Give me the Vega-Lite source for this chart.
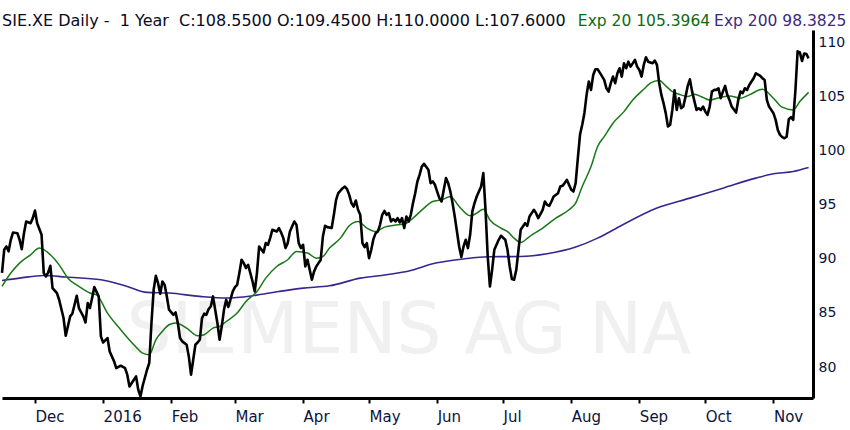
{
  "$schema": "https://vega.github.io/schema/vega-lite/v6.json",
  "autosize": {"type": "none"},
  "width": 811,
  "height": 368,
  "padding": {"left": 2, "top": 30, "right": 37, "bottom": 32},
  "background": "white",
  "config": {"view": {"stroke": null}, "font": "DejaVu Sans"},
  "datasets": {
    "close": [
      {"date": "2015-11-16", "value": 88.7}, {"date": "2015-11-17", "value": 90.84}, {"date": "2015-11-18", "value": 91.15},
      {"date": "2015-11-19", "value": 90.7}, {"date": "2015-11-20", "value": 91.77}, {"date": "2015-11-21", "value": 92.44},
      {"date": "2015-11-23", "value": 92.38}, {"date": "2015-11-24", "value": 91.77}, {"date": "2015-11-25", "value": 90.9},
      {"date": "2015-11-26", "value": 92.38}, {"date": "2015-11-27", "value": 93.46}, {"date": "2015-11-29", "value": 93.3},
      {"date": "2015-11-30", "value": 93.77}, {"date": "2015-12-01", "value": 94.47}, {"date": "2015-12-02", "value": 93.3},
      {"date": "2015-12-04", "value": 92.23}, {"date": "2015-12-05", "value": 88.69}, {"date": "2015-12-06", "value": 88.38},
      {"date": "2015-12-07", "value": 88.74}, {"date": "2015-12-08", "value": 89.36}, {"date": "2015-12-09", "value": 87.3},
      {"date": "2015-12-11", "value": 86.84}, {"date": "2015-12-12", "value": 86.22}, {"date": "2015-12-14", "value": 84.53},
      {"date": "2015-12-15", "value": 82.89}, {"date": "2015-12-17", "value": 84.68}, {"date": "2015-12-18", "value": 84.93},
      {"date": "2015-12-20", "value": 86.59}, {"date": "2015-12-21", "value": 85.45}, {"date": "2015-12-23", "value": 84.68},
      {"date": "2015-12-24", "value": 84.12}, {"date": "2015-12-25", "value": 85.91}, {"date": "2015-12-26", "value": 85.45},
      {"date": "2015-12-27", "value": 86.38}, {"date": "2015-12-28", "value": 87.39}, {"date": "2015-12-30", "value": 86.53},
      {"date": "2015-12-31", "value": 82.83}, {"date": "2016-01-01", "value": 82.27}, {"date": "2016-01-03", "value": 82.68},
      {"date": "2016-01-04", "value": 81.44}, {"date": "2016-01-06", "value": 80.52}, {"date": "2016-01-07", "value": 79.9},
      {"date": "2016-01-09", "value": 80.12}, {"date": "2016-01-11", "value": 79.9}, {"date": "2016-01-12", "value": 79.29},
      {"date": "2016-01-13", "value": 78.2}, {"date": "2016-01-15", "value": 78.83}, {"date": "2016-01-16", "value": 79.13},
      {"date": "2016-01-17", "value": 77.9}, {"date": "2016-01-18", "value": 77.28}, {"date": "2016-01-19", "value": 78.27},
      {"date": "2016-01-21", "value": 79.75}, {"date": "2016-01-22", "value": 80.37}, {"date": "2016-01-23", "value": 84.07},
      {"date": "2016-01-24", "value": 87.14}, {"date": "2016-01-25", "value": 88.44}, {"date": "2016-01-26", "value": 87.76},
      {"date": "2016-01-27", "value": 86.77}, {"date": "2016-01-28", "value": 87.91}, {"date": "2016-01-29", "value": 87.6},
      {"date": "2016-01-30", "value": 86.53}, {"date": "2016-01-31", "value": 85.3}, {"date": "2016-02-02", "value": 84.83},
      {"date": "2016-02-03", "value": 85.05}, {"date": "2016-02-04", "value": 84.07}, {"date": "2016-02-05", "value": 82.68},
      {"date": "2016-02-06", "value": 82.37}, {"date": "2016-02-08", "value": 82.06}, {"date": "2016-02-09", "value": 80.98},
      {"date": "2016-02-10", "value": 79.29}, {"date": "2016-02-11", "value": 80.67}, {"date": "2016-02-12", "value": 82.06},
      {"date": "2016-02-13", "value": 82.27}, {"date": "2016-02-14", "value": 82.52}, {"date": "2016-02-15", "value": 84.53},
      {"date": "2016-02-16", "value": 84.93}, {"date": "2016-02-17", "value": 84.83}, {"date": "2016-02-18", "value": 85.36},
      {"date": "2016-02-19", "value": 85.6}, {"date": "2016-02-20", "value": 86.53}, {"date": "2016-02-21", "value": 85.3},
      {"date": "2016-02-22", "value": 84.07}, {"date": "2016-02-23", "value": 82.52}, {"date": "2016-02-24", "value": 83.76},
      {"date": "2016-02-25", "value": 85.3}, {"date": "2016-02-26", "value": 86.22}, {"date": "2016-02-27", "value": 85.55},
      {"date": "2016-02-29", "value": 86.99}, {"date": "2016-03-01", "value": 87.39}, {"date": "2016-03-02", "value": 87.6},
      {"date": "2016-03-03", "value": 88.69}, {"date": "2016-03-04", "value": 89.92}, {"date": "2016-03-05", "value": 89.61},
      {"date": "2016-03-06", "value": 89.15}, {"date": "2016-03-07", "value": 89.45}, {"date": "2016-03-08", "value": 88.69},
      {"date": "2016-03-09", "value": 87.91}, {"date": "2016-03-10", "value": 86.99}, {"date": "2016-03-11", "value": 88.69},
      {"date": "2016-03-12", "value": 91.15}, {"date": "2016-03-14", "value": 90.6}, {"date": "2016-03-15", "value": 91.46},
      {"date": "2016-03-16", "value": 91.3}, {"date": "2016-03-17", "value": 91.92}, {"date": "2016-03-18", "value": 92.69},
      {"date": "2016-03-20", "value": 92.53}, {"date": "2016-03-21", "value": 92.85}, {"date": "2016-03-22", "value": 92.44},
      {"date": "2016-03-23", "value": 91.92}, {"date": "2016-03-24", "value": 91.0}, {"date": "2016-03-25", "value": 91.46},
      {"date": "2016-03-26", "value": 92.53}, {"date": "2016-03-28", "value": 93.46}, {"date": "2016-03-29", "value": 93.15},
      {"date": "2016-03-30", "value": 91.46}, {"date": "2016-03-31", "value": 91.0}, {"date": "2016-04-01", "value": 91.3},
      {"date": "2016-04-02", "value": 89.3}, {"date": "2016-04-03", "value": 89.92}, {"date": "2016-04-04", "value": 88.99},
      {"date": "2016-04-05", "value": 88.07}, {"date": "2016-04-06", "value": 88.84}, {"date": "2016-04-07", "value": 89.3},
      {"date": "2016-04-08", "value": 89.61}, {"date": "2016-04-09", "value": 89.9}, {"date": "2016-04-10", "value": 92.07},
      {"date": "2016-04-11", "value": 93.06}, {"date": "2016-04-12", "value": 92.94}, {"date": "2016-04-14", "value": 92.85},
      {"date": "2016-04-15", "value": 94.08}, {"date": "2016-04-16", "value": 95.46}, {"date": "2016-04-17", "value": 96.08},
      {"date": "2016-04-19", "value": 96.54}, {"date": "2016-04-20", "value": 96.69}, {"date": "2016-04-21", "value": 96.45},
      {"date": "2016-04-22", "value": 95.92}, {"date": "2016-04-23", "value": 95.16}, {"date": "2016-04-24", "value": 94.84},
      {"date": "2016-04-25", "value": 95.4}, {"date": "2016-04-26", "value": 94.54}, {"date": "2016-04-27", "value": 94.08},
      {"date": "2016-04-28", "value": 91.46}, {"date": "2016-04-29", "value": 91.09}, {"date": "2016-04-30", "value": 91.46},
      {"date": "2016-05-01", "value": 90.07}, {"date": "2016-05-02", "value": 90.84}, {"date": "2016-05-03", "value": 91.83},
      {"date": "2016-05-04", "value": 92.38}, {"date": "2016-05-05", "value": 92.53}, {"date": "2016-05-06", "value": 93.15},
      {"date": "2016-05-07", "value": 94.08}, {"date": "2016-05-08", "value": 94.45}, {"date": "2016-05-09", "value": 94.08},
      {"date": "2016-05-10", "value": 94.23}, {"date": "2016-05-11", "value": 93.46}, {"date": "2016-05-12", "value": 93.68},
      {"date": "2016-05-13", "value": 93.46}, {"date": "2016-05-14", "value": 93.77}, {"date": "2016-05-15", "value": 93.37},
      {"date": "2016-05-16", "value": 93.77}, {"date": "2016-05-17", "value": 92.85}, {"date": "2016-05-18", "value": 93.92},
      {"date": "2016-05-19", "value": 93.46}, {"date": "2016-05-20", "value": 94.08}, {"date": "2016-05-21", "value": 95.16},
      {"date": "2016-05-22", "value": 96.08}, {"date": "2016-05-23", "value": 97.16}, {"date": "2016-05-24", "value": 97.77},
      {"date": "2016-05-25", "value": 98.54}, {"date": "2016-05-26", "value": 98.79}, {"date": "2016-05-28", "value": 98.24},
      {"date": "2016-05-29", "value": 97.01}, {"date": "2016-05-30", "value": 97.16}, {"date": "2016-05-31", "value": 96.85},
      {"date": "2016-06-01", "value": 96.23}, {"date": "2016-06-02", "value": 95.62}, {"date": "2016-06-03", "value": 95.31},
      {"date": "2016-06-04", "value": 96.39}, {"date": "2016-06-05", "value": 97.47}, {"date": "2016-06-06", "value": 97.01},
      {"date": "2016-06-07", "value": 96.23}, {"date": "2016-06-08", "value": 95.16}, {"date": "2016-06-09", "value": 93.92},
      {"date": "2016-06-10", "value": 92.53}, {"date": "2016-06-11", "value": 91.15}, {"date": "2016-06-12", "value": 90.17},
      {"date": "2016-06-13", "value": 91.15}, {"date": "2016-06-14", "value": 91.77}, {"date": "2016-06-15", "value": 91.0},
      {"date": "2016-06-16", "value": 92.23}, {"date": "2016-06-17", "value": 94.39}, {"date": "2016-06-18", "value": 95.16},
      {"date": "2016-06-19", "value": 95.77}, {"date": "2016-06-20", "value": 96.23}, {"date": "2016-06-21", "value": 96.69},
      {"date": "2016-06-22", "value": 97.93}, {"date": "2016-06-23", "value": 94.54}, {"date": "2016-06-24", "value": 90.22},
      {"date": "2016-06-25", "value": 87.45}, {"date": "2016-06-26", "value": 88.99}, {"date": "2016-06-27", "value": 90.84},
      {"date": "2016-06-29", "value": 91.77}, {"date": "2016-06-30", "value": 92.14}, {"date": "2016-07-02", "value": 91.77},
      {"date": "2016-07-03", "value": 90.84}, {"date": "2016-07-04", "value": 89.3}, {"date": "2016-07-05", "value": 88.13},
      {"date": "2016-07-06", "value": 88.07}, {"date": "2016-07-07", "value": 88.99}, {"date": "2016-07-08", "value": 90.84},
      {"date": "2016-07-09", "value": 92.69}, {"date": "2016-07-11", "value": 93.3}, {"date": "2016-07-12", "value": 93.06},
      {"date": "2016-07-13", "value": 93.92}, {"date": "2016-07-14", "value": 94.23}, {"date": "2016-07-15", "value": 94.54},
      {"date": "2016-07-16", "value": 94.23}, {"date": "2016-07-17", "value": 93.77}, {"date": "2016-07-19", "value": 94.54},
      {"date": "2016-07-20", "value": 95.31}, {"date": "2016-07-21", "value": 95.0}, {"date": "2016-07-22", "value": 94.91},
      {"date": "2016-07-23", "value": 95.31}, {"date": "2016-07-24", "value": 95.77}, {"date": "2016-07-26", "value": 96.08},
      {"date": "2016-07-27", "value": 96.69}, {"date": "2016-07-28", "value": 96.76}, {"date": "2016-07-29", "value": 97.01},
      {"date": "2016-07-30", "value": 97.31}, {"date": "2016-07-31", "value": 96.85}, {"date": "2016-08-01", "value": 96.39},
      {"date": "2016-08-02", "value": 96.23}, {"date": "2016-08-03", "value": 97.01}, {"date": "2016-08-04", "value": 99.3},
      {"date": "2016-08-05", "value": 101.5}, {"date": "2016-08-06", "value": 102.4}, {"date": "2016-08-07", "value": 103.5},
      {"date": "2016-08-08", "value": 105.2}, {"date": "2016-08-09", "value": 106.4}, {"date": "2016-08-10", "value": 105.63},
      {"date": "2016-08-11", "value": 107.01}, {"date": "2016-08-12", "value": 107.54}, {"date": "2016-08-13", "value": 107.54},
      {"date": "2016-08-14", "value": 107.23}, {"date": "2016-08-16", "value": 106.55}, {"date": "2016-08-17", "value": 105.78},
      {"date": "2016-08-18", "value": 105.47}, {"date": "2016-08-19", "value": 106.25}, {"date": "2016-08-20", "value": 106.86},
      {"date": "2016-08-21", "value": 106.25}, {"date": "2016-08-22", "value": 107.17}, {"date": "2016-08-23", "value": 107.63},
      {"date": "2016-08-24", "value": 106.86}, {"date": "2016-08-25", "value": 108.1}, {"date": "2016-08-26", "value": 107.63},
      {"date": "2016-08-27", "value": 108.24}, {"date": "2016-08-28", "value": 107.78}, {"date": "2016-08-30", "value": 108.4},
      {"date": "2016-08-31", "value": 107.78}, {"date": "2016-09-01", "value": 107.47}, {"date": "2016-09-02", "value": 106.86},
      {"date": "2016-09-03", "value": 107.94}, {"date": "2016-09-04", "value": 108.65}, {"date": "2016-09-05", "value": 108.24},
      {"date": "2016-09-07", "value": 108.09}, {"date": "2016-09-08", "value": 108.34}, {"date": "2016-09-09", "value": 107.94},
      {"date": "2016-09-10", "value": 106.3}, {"date": "2016-09-11", "value": 105.17}, {"date": "2016-09-12", "value": 104.4},
      {"date": "2016-09-13", "value": 103.48}, {"date": "2016-09-14", "value": 102.24}, {"date": "2016-09-15", "value": 102.4},
      {"date": "2016-09-16", "value": 103.78}, {"date": "2016-09-17", "value": 105.6}, {"date": "2016-09-18", "value": 103.78},
      {"date": "2016-09-19", "value": 104.86}, {"date": "2016-09-20", "value": 103.93}, {"date": "2016-09-21", "value": 104.09},
      {"date": "2016-09-22", "value": 105.01}, {"date": "2016-09-23", "value": 106.0}, {"date": "2016-09-24", "value": 106.6},
      {"date": "2016-09-25", "value": 105.47}, {"date": "2016-09-27", "value": 103.78}, {"date": "2016-09-28", "value": 103.93},
      {"date": "2016-09-29", "value": 103.78}, {"date": "2016-09-30", "value": 104.09}, {"date": "2016-10-01", "value": 103.62},
      {"date": "2016-10-02", "value": 103.32}, {"date": "2016-10-03", "value": 104.09}, {"date": "2016-10-04", "value": 105.47},
      {"date": "2016-10-05", "value": 105.63}, {"date": "2016-10-06", "value": 105.63}, {"date": "2016-10-07", "value": 105.78},
      {"date": "2016-10-08", "value": 104.86}, {"date": "2016-10-09", "value": 105.47}, {"date": "2016-10-10", "value": 106.0},
      {"date": "2016-10-11", "value": 105.17}, {"date": "2016-10-12", "value": 104.7}, {"date": "2016-10-13", "value": 104.09},
      {"date": "2016-10-15", "value": 103.53}, {"date": "2016-10-16", "value": 104.7}, {"date": "2016-10-17", "value": 105.47},
      {"date": "2016-10-18", "value": 105.32}, {"date": "2016-10-19", "value": 105.78}, {"date": "2016-10-20", "value": 105.63},
      {"date": "2016-10-21", "value": 106.09}, {"date": "2016-10-22", "value": 106.4}, {"date": "2016-10-23", "value": 106.71},
      {"date": "2016-10-24", "value": 107.17}, {"date": "2016-10-26", "value": 106.92}, {"date": "2016-10-27", "value": 106.71},
      {"date": "2016-10-28", "value": 106.55}, {"date": "2016-10-29", "value": 104.7}, {"date": "2016-10-30", "value": 104.09},
      {"date": "2016-10-31", "value": 103.78}, {"date": "2016-11-01", "value": 103.48}, {"date": "2016-11-02", "value": 102.86},
      {"date": "2016-11-03", "value": 101.93}, {"date": "2016-11-04", "value": 101.47}, {"date": "2016-11-05", "value": 101.26},
      {"date": "2016-11-06", "value": 101.16}, {"date": "2016-11-07", "value": 101.3}, {"date": "2016-11-08", "value": 102.92},
      {"date": "2016-11-09", "value": 103.11}, {"date": "2016-11-10", "value": 102.86}, {"date": "2016-11-11", "value": 105.6},
      {"date": "2016-11-12", "value": 109.2}, {"date": "2016-11-13", "value": 109.1}, {"date": "2016-11-14", "value": 108.3},
      {"date": "2016-11-15", "value": 109.0}, {"date": "2016-11-16", "value": 108.95}, {"date": "2016-11-17", "value": 108.55}
    ],
    "ema20": [
      {"date": "2015-11-16", "value": 87.45}, {"date": "2015-11-20", "value": 88.69}, {"date": "2015-11-24", "value": 89.61},
      {"date": "2015-11-29", "value": 90.38}, {"date": "2015-12-03", "value": 91.0}, {"date": "2015-12-08", "value": 90.38},
      {"date": "2015-12-12", "value": 89.45}, {"date": "2015-12-16", "value": 88.22}, {"date": "2015-12-21", "value": 87.45},
      {"date": "2015-12-26", "value": 86.84}, {"date": "2015-12-29", "value": 86.68}, {"date": "2016-01-03", "value": 84.99},
      {"date": "2016-01-09", "value": 83.45}, {"date": "2016-01-15", "value": 82.06}, {"date": "2016-01-19", "value": 81.29},
      {"date": "2016-01-22", "value": 81.14}, {"date": "2016-01-25", "value": 82.52}, {"date": "2016-01-28", "value": 83.3},
      {"date": "2016-01-31", "value": 83.91}, {"date": "2016-02-03", "value": 84.07}, {"date": "2016-02-08", "value": 83.6},
      {"date": "2016-02-13", "value": 82.89}, {"date": "2016-02-16", "value": 82.99}, {"date": "2016-02-20", "value": 83.6},
      {"date": "2016-02-23", "value": 83.75}, {"date": "2016-02-26", "value": 84.21}, {"date": "2016-03-02", "value": 84.99},
      {"date": "2016-03-06", "value": 86.06}, {"date": "2016-03-11", "value": 86.99}, {"date": "2016-03-15", "value": 88.22},
      {"date": "2016-03-20", "value": 89.3}, {"date": "2016-03-25", "value": 89.92}, {"date": "2016-03-29", "value": 90.69},
      {"date": "2016-04-03", "value": 90.54}, {"date": "2016-04-07", "value": 90.07}, {"date": "2016-04-10", "value": 90.22},
      {"date": "2016-04-13", "value": 91.0}, {"date": "2016-04-18", "value": 91.92}, {"date": "2016-04-22", "value": 93.06},
      {"date": "2016-04-26", "value": 93.46}, {"date": "2016-04-30", "value": 92.85}, {"date": "2016-05-04", "value": 92.53},
      {"date": "2016-05-08", "value": 92.94}, {"date": "2016-05-14", "value": 93.15}, {"date": "2016-05-18", "value": 93.3},
      {"date": "2016-05-21", "value": 93.77}, {"date": "2016-05-26", "value": 94.7}, {"date": "2016-05-30", "value": 95.31},
      {"date": "2016-06-03", "value": 95.46}, {"date": "2016-06-07", "value": 95.77}, {"date": "2016-06-11", "value": 94.84},
      {"date": "2016-06-16", "value": 93.98}, {"date": "2016-06-19", "value": 94.23}, {"date": "2016-06-22", "value": 94.6},
      {"date": "2016-06-25", "value": 93.6}, {"date": "2016-06-30", "value": 92.85}, {"date": "2016-07-03", "value": 92.53},
      {"date": "2016-07-06", "value": 91.92}, {"date": "2016-07-09", "value": 91.52}, {"date": "2016-07-13", "value": 92.07},
      {"date": "2016-07-19", "value": 92.85}, {"date": "2016-07-25", "value": 93.77}, {"date": "2016-07-31", "value": 94.54},
      {"date": "2016-08-03", "value": 95.16}, {"date": "2016-08-06", "value": 96.69}, {"date": "2016-08-10", "value": 98.54},
      {"date": "2016-08-13", "value": 100.39}, {"date": "2016-08-16", "value": 101.31}, {"date": "2016-08-20", "value": 102.55},
      {"date": "2016-08-25", "value": 103.62}, {"date": "2016-08-29", "value": 104.7}, {"date": "2016-09-03", "value": 105.69},
      {"date": "2016-09-06", "value": 106.25}, {"date": "2016-09-10", "value": 106.49}, {"date": "2016-09-13", "value": 106.0},
      {"date": "2016-09-16", "value": 105.47}, {"date": "2016-09-19", "value": 105.23}, {"date": "2016-09-23", "value": 105.01},
      {"date": "2016-09-26", "value": 105.23}, {"date": "2016-09-30", "value": 104.92}, {"date": "2016-10-03", "value": 104.7},
      {"date": "2016-10-08", "value": 104.95}, {"date": "2016-10-12", "value": 105.07}, {"date": "2016-10-17", "value": 104.86},
      {"date": "2016-10-21", "value": 105.17}, {"date": "2016-10-27", "value": 105.69}, {"date": "2016-11-01", "value": 104.86},
      {"date": "2016-11-05", "value": 104.03}, {"date": "2016-11-10", "value": 103.78}, {"date": "2016-11-13", "value": 104.55},
      {"date": "2016-11-17", "value": 105.4}
    ],
    "ema200": [
      {"date": "2015-11-16", "value": 88.0}, {"date": "2015-11-24", "value": 88.22}, {"date": "2015-12-05", "value": 88.47},
      {"date": "2015-12-15", "value": 88.32}, {"date": "2015-12-31", "value": 88.07}, {"date": "2016-01-12", "value": 87.45},
      {"date": "2016-01-21", "value": 86.9}, {"date": "2016-01-31", "value": 86.84}, {"date": "2016-02-14", "value": 86.53},
      {"date": "2016-02-26", "value": 86.38}, {"date": "2016-03-09", "value": 86.59}, {"date": "2016-03-21", "value": 86.99},
      {"date": "2016-04-01", "value": 87.3}, {"date": "2016-04-13", "value": 87.51}, {"date": "2016-04-27", "value": 88.22},
      {"date": "2016-05-09", "value": 88.53}, {"date": "2016-05-20", "value": 88.93}, {"date": "2016-05-30", "value": 89.55},
      {"date": "2016-06-10", "value": 89.92}, {"date": "2016-06-25", "value": 90.2}, {"date": "2016-07-09", "value": 90.22},
      {"date": "2016-07-21", "value": 90.47}, {"date": "2016-08-03", "value": 91.09}, {"date": "2016-08-13", "value": 91.92},
      {"date": "2016-08-23", "value": 93.0}, {"date": "2016-09-09", "value": 94.7}, {"date": "2016-09-24", "value": 95.62},
      {"date": "2016-10-09", "value": 96.54}, {"date": "2016-10-24", "value": 97.47}, {"date": "2016-11-01", "value": 97.87},
      {"date": "2016-11-10", "value": 98.08}, {"date": "2016-11-17", "value": 98.45}
    ],
    "header": [
      {"piece": "SIE.XE Daily -\u00a0 1 Year\u00a0 C:108.5500 O:109.4500 H:110.0000 L:107.6000"},
      {"piece": "Exp 20 105.3964"},
      {"piece": "Exp 200 98.3825"},
      {"piece": "SIEMENS AG NA"}
    ]
  },
  "layer": [
    {
      "data": {"name": "header"},
      "transform": [{"filter": "datum.piece === 'SIEMENS AG NA'"}],
      "mark": {"type": "text", "font": "DejaVu Sans", "fontSize": 71, "color": "#f0f0f0", "align": "center", "baseline": "alphabetic"},
      "encoding": {
        "x": {"datum": {"year": 2016, "month": 5, "date": 19, "utc": true}, "type": "temporal"},
        "y": {"datum": 81.32, "type": "quantitative"},
        "text": {"field": "piece", "type": "nominal"}
      }
    },
    {
      "data": {"name": "ema200"},
      "mark": {"type": "line", "color": "#3a2590", "strokeWidth": 1.6, "interpolate": "monotone"},
      "encoding": {
        "x": {
          "field": "date",
          "type": "temporal",
          "scale": {
            "type": "utc",
            "domain": [
              {"year": 2015, "month": 11, "date": 16, "utc": true},
              {"year": 2016, "month": 11, "date": 19, "utc": true}
            ]
          },
          "axis": {
            "title": null,
            "grid": false,
            "tickCount": {"interval": "month", "step": 1},
            "labelExpr": "utcmonth(datum.value) === 0 ? utcFormat(datum.value, '%Y') : utcFormat(datum.value, '%b')",
            "labelAlign": "left",
            "labelFont": "DejaVu Sans",
            "labelFontSize": 15,
            "labelColor": "#0c1440",
            "labelPadding": 6,
            "labelFlush": false,
            "labelOverlap": false,
            "domainColor": "black",
            "domainWidth": 3,
            "tickColor": "black",
            "tickWidth": 2,
            "tickSize": 5
          }
        },
        "y": {
          "field": "value",
          "type": "quantitative",
          "scale": {"domain": [77.135, 111.17], "nice": false, "zero": false},
          "axis": {
            "orient": "right",
            "title": null,
            "grid": false,
            "values": [80, 85, 90, 95, 100, 105, 110],
            "ticks": false,
            "labelPadding": 5,
            "labelFont": "DejaVu Sans",
            "labelFontSize": 14,
            "labelColor": "#0c1440",
            "domainColor": "black",
            "domainWidth": 3
          }
        }
      }
    },
    {
      "data": {"name": "ema20"},
      "mark": {"type": "line", "color": "#187818", "strokeWidth": 1.5, "interpolate": "monotone"},
      "encoding": {
        "x": {"field": "date", "type": "temporal"},
        "y": {"field": "value", "type": "quantitative"}
      }
    },
    {
      "data": {"name": "close"},
      "mark": {"type": "line", "color": "black", "strokeWidth": 2.6, "strokeJoin": "round"},
      "encoding": {
        "x": {"field": "date", "type": "temporal"},
        "y": {"field": "value", "type": "quantitative"}
      }
    },
    {
      "data": {"name": "header"},
      "transform": [{"filter": "indexof(datum.piece, 'SIE.XE') === 0"}],
      "mark": {"type": "text", "font": "DejaVu Sans", "fontSize": 16, "color": "#0a0a1e", "align": "left", "baseline": "alphabetic"},
      "encoding": {
        "x": {"datum": {"year": 2015, "month": 11, "date": 16, "utc": true}, "type": "temporal"},
        "y": {"datum": 111.5, "type": "quantitative"},
        "text": {"field": "piece", "type": "nominal"}
      }
    },
    {
      "data": {"name": "header"},
      "transform": [{"filter": "datum.piece === 'Exp 20 105.3964'"}],
      "mark": {"type": "text", "font": "DejaVu Sans", "fontSize": 15.5, "color": "#0f6a0f", "align": "left", "baseline": "alphabetic"},
      "encoding": {
        "x": {"datum": {"year": 2016, "month": 8, "date": 4, "utc": true}, "type": "temporal"},
        "y": {"datum": 111.5, "type": "quantitative"},
        "text": {"field": "piece", "type": "nominal"}
      }
    },
    {
      "data": {"name": "header"},
      "transform": [{"filter": "datum.piece === 'Exp 200 98.3825'"}],
      "mark": {"type": "text", "font": "DejaVu Sans", "fontSize": 15.5, "color": "#3a2a80", "align": "left", "baseline": "alphabetic"},
      "encoding": {
        "x": {"datum": {"year": 2016, "month": 10, "date": 5, "utc": true}, "type": "temporal"},
        "y": {"datum": 111.5, "type": "quantitative"},
        "text": {"field": "piece", "type": "nominal"}
      }
    }
  ]
}
